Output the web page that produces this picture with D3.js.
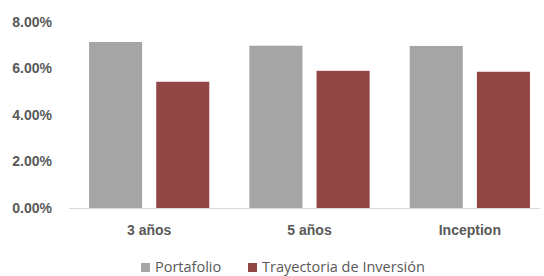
<!DOCTYPE html>
<html><head><meta charset="utf-8">
<script src="https://cdn.jsdelivr.net/npm/d3@7"></script>
<style>body{margin:0;background:#fff}svg{display:block}</style>
</head><body>
<script>
const categories = ["3 años", "5 años", "Inception"];
const seriesNames = ["Portafolio", "Trayectoria de Inversión"];
const portafolio = [7.14, 6.98, 6.97];
const trayectoria = [5.43, 5.90, 5.86];
const yTicks = [0, 2, 4, 6, 8];
const colors = ["#a5a5a5", "#934646"];

const W = 544, H = 276;
const svg = d3.select("body").append("svg").attr("width", W).attr("height", H);

const x0 = d3.scaleBand().domain(categories).range([69, 550]).paddingInner(0.25).paddingOuter(0.125);
const x1 = d3.scaleBand().domain(seriesNames).range([0, x0.bandwidth()]).paddingInner(0.21);
const y = d3.scaleLinear().domain([0, 8]).range([208, 22]);

// y tick labels
const yAxis = d3.axisLeft(y).tickValues(yTicks).tickFormat(d => d3.format(".2f")(d) + "%").tickSize(0).tickPadding(0);
const ga = svg.append("g").attr("transform", "translate(52,0)").call(yAxis);
ga.select(".domain").remove();
ga.selectAll("text").attr("font-family", "Liberation Sans, Arial, sans-serif").attr("font-size", 14)
  .attr("font-weight", "bold").attr("fill", "#595959");

const rows = categories.map((c, i) => ({c, vals: [portafolio[i], trayectoria[i]]}));
const g = svg.append("g");
rows.forEach(r => {
  r.vals.forEach((v, j) => {
    g.append("rect")
      .attr("x", x0(r.c) + x1(seriesNames[j]))
      .attr("width", x1.bandwidth())
      .attr("y", y(v))
      .attr("height", y(0) - y(v))
      .attr("fill", colors[j]);
  });
});

// x axis
const xAxis = d3.axisBottom(x0).tickSize(0).tickPadding(0);
const gx = svg.append("g").attr("transform", `translate(0,${y(0)})`).call(xAxis);
gx.select(".domain").remove();
svg.append("line").attr("x1", 69).attr("x2", 540).attr("y1", y(0) + 0.5).attr("y2", y(0) + 0.5)
  .attr("stroke", "#d9d9d9").attr("stroke-width", 1);
gx.selectAll("text").attr("dy", null).attr("y", 27)
  .attr("font-family", "Liberation Sans, Arial, sans-serif").attr("font-size", 14)
  .attr("font-weight", "bold").attr("fill", "#595959");

// legend
const legX = [141, 248];
seriesNames.forEach((s, j) => {
  svg.append("rect").attr("x", legX[j]).attr("y", 263).attr("width", 9).attr("height", 9).attr("fill", colors[j]);
  svg.append("text").attr("x", legX[j] + 14).attr("y", 272).text(s)
    .attr("font-family", "Open Sans, sans-serif").attr("font-size", 14.5).attr("fill", "#595959");
});
</script>
</body></html>
